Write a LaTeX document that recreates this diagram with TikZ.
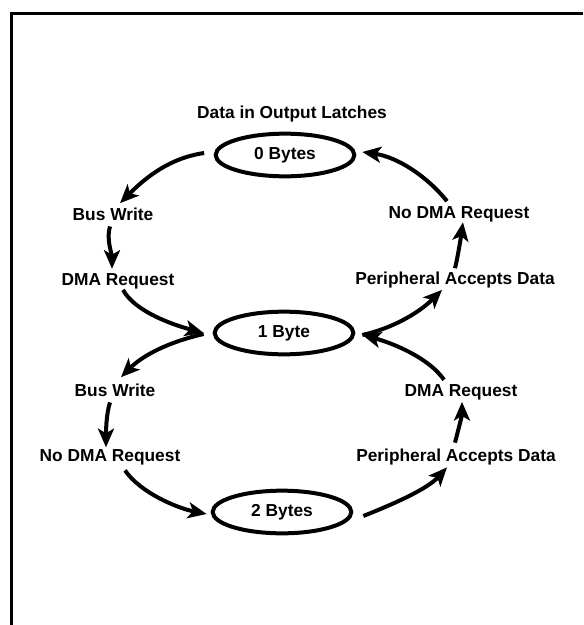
\documentclass[tikz,border=0pt]{standalone}
\usepackage{fontspec}
\setmainfont{Liberation Sans}
\usetikzlibrary{shapes.geometric,arrows.meta}
\begin{document}
\begin{tikzpicture}[x=0.75pt,y=-0.75pt,
  lab/.style={font=\bfseries\fontsize{13}{15}\selectfont, inner sep=0pt, anchor=base},
  state/.style={ellipse, draw, line width=3pt, minimum width=104pt, minimum height=32pt,
                inner sep=0pt, font=\bfseries\fontsize{13}{15}\selectfont},
  arr/.style={line width=3pt, -{Stealth[length=14pt,width=12pt,inset=3.5pt]}},
  frame/.style={line width=1.8pt}
]
\useasboundingbox (0,0) rectangle (583,625);
\coordinate (fbl) at (11.3,625);
\coordinate (ftl) at (11.3,13.3);
\coordinate (ftr) at (583,13.3);
\draw[frame] (fbl) -- (ftl) -- (ftr);

\node[lab] (title) at (292,118) {Data in Output Latches};
\node[state] (e0) at (285,155) {0 Bytes};
\node[state] (e1) at (284,333) {1 Byte};
\node[state] (e2) at (282,512) {2 Bytes};

\node[lab] (bw1) at (113,220) {Bus Write};
\node[lab] (dr1) at (118,285) {DMA Request};
\node[lab] (nd1) at (459,218.4) {No DMA Request};
\node[lab] (pa1) at (455,284) {Peripheral Accepts Data};
\node[lab] (bw2) at (115,396) {Bus Write};
\node[lab] (nd2) at (110,461.5) {No DMA Request};
\node[lab] (dr2) at (461,396) {DMA Request};
\node[lab] (pa2) at (456,461.5) {Peripheral Accepts Data};

% left side, upper loop
\draw[arr] ([shift={(-9.5,-2)}]e0.west) .. controls +(-35,5) and +(25,-25) .. ([shift={(7,-4)}]bw1.north);
\draw[arr] ([shift={(-3,6)}]bw1.south) .. controls +(-4,12) and +(0,-14) .. ([shift={(-6,-4)}]dr1.north);
\draw[arr] ([shift={(5,1)}]dr1.south) .. controls +(12,22) and +(-30,-8) .. ([shift={(-9,0)}]e1.west);
% left side, lower loop
\draw[arr] ([shift={(-9,1)}]e1.west) .. controls +(-35,8) and +(22,-22) .. ([shift={(6,-6)}]bw2.north);
\draw[arr] ([shift={(-5,6)}]bw2.south) .. controls +(-4,12) and +(0,-14) .. ([shift={(-4,-2)}]nd2.north);
\draw[arr] ([shift={(15,5)}]nd2.south) .. controls +(15,22) and +(-30,-6) .. ([shift={(-4,2)}]e2.west);
% right side, lower loop
\draw[arr] ([shift={(10,4)}]e2.east) .. controls +(30,-12) and +(-20,22) .. ([shift={(-9,2)}]pa2.south);
\draw[arr] ([shift={(-1,-6)}]pa2.north) .. controls +(3,-12) and +(0,14) .. ([shift={(1,2)}]dr2.south);
\draw[arr] ([shift={(-17,-4)}]dr2.north) .. controls +(-15,-22) and +(30,8) .. ([shift={(7,2)}]e1.east);
% right side, upper loop
\draw[arr] ([shift={(7,2)}]e1.east) .. controls +(35,-8) and +(-20,20) .. ([shift={(-13,2)}]pa1.south);
\draw[arr] ([shift={(0,-3)}]pa1.north) .. controls +(3,-12) and +(-2,14) .. ([shift={(4,0)}]nd1.south);
\draw[arr] ([shift={(-12,-5)}]nd1.north) .. controls +(-20,-25) and +(35,5) .. ([shift={(6,-3)}]e0.east);
\end{tikzpicture}
\end{document}
